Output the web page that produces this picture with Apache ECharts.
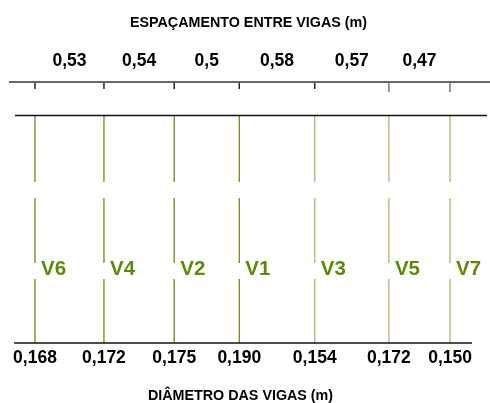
<!DOCTYPE html>
<html lang="pt">
  <head>
    <meta charset="UTF-8" />
    <title>Espaçamento entre vigas</title>
    <script src="https://cdn.jsdelivr.net/npm/echarts@6/dist/echarts.min.js"></script>
    <style>
      * {
        margin: 0;
        padding: 0;
      }
      html,
      body {
        background: #fff;
      }
    </style>
  </head>
  <body>
    <div id="charts" style="width: 490px; height: 403px"></div>
    <script>
      // dados
      var vigas = ["V6", "V4", "V2", "V1", "V3", "V5", "V7"];
      var espacamentos = [0.53, 0.54, 0.5, 0.58, 0.57, 0.47];
      var diametros = [0.168, 0.172, 0.175, 0.19, 0.154, 0.172, 0.15];

      var tituloTopo = "ESPAÇAMENTO ENTRE VIGAS (m)";
      var tituloBase = "DIÂMETRO DAS VIGAS (m)";

      var verdeEscuro = "#6b8c1a";
      var verdeClaro = "#a6ba6e";
      var corLinhas = [verdeEscuro, verdeEscuro, verdeEscuro, verdeEscuro, verdeClaro, verdeClaro, verdeClaro];
      var fonte = "Liberation Sans";

      // posição de cada viga = soma dos espaçamentos
      var posicoes = [0];
      espacamentos.forEach(function (e, i) {
        posicoes.push(+(posicoes[i] + e).toFixed(2));
      });

      function virgula(v, casas) {
        return (casas ? v.toFixed(casas) : String(v)).replace(".", ",");
      }

      function rotulo(cor, tamanho, posicao) {
        return {
          show: true,
          position: posicao,
          formatter: "{b}",
          color: cor,
          fontSize: tamanho,
          fontWeight: "bold",
          fontFamily: fonte,
          textBorderWidth: 0,
          textBorderColor: "transparent",
          opacity: 1,
        };
      }

      var myEcharts = echarts.init(document.getElementById("charts"));
      var series = [];

      // linhas verticais das vigas (com pequenas interrupções)
      posicoes.forEach(function (x, i) {
        series.push({
          type: "line",
          symbol: "none",
          silent: true,
          lineStyle: { color: corLinhas[i], width: 1.3 },
          data: [[x, 0], [x, 64], [x, "-"], [x, 80], [x, 145], [x, "-"], [x, 161], [x, 228]],
        });
        series.push({
          type: "line",
          symbol: "none",
          silent: true,
          lineStyle: { color: i < 5 ? "#222" : "#777", width: 1.5 },
          data: [[x, i < 5 ? 254 : 251], [x, 261]],
        });
      });

      // linhas horizontais
      series.push({
        type: "line",
        symbol: "none",
        silent: true,
        lineStyle: { color: "#111", width: 1.5 },
        data: [[-0.161, 0], [3.359, 0]],
      });
      series.push({
        type: "line",
        symbol: "none",
        silent: true,
        lineStyle: { color: "#111", width: 1.5 },
        data: [[-0.154, 227.5], [3.474, 227.5]],
      });
      series.push({
        type: "line",
        symbol: "none",
        silent: true,
        lineStyle: { color: "#666", width: 2 },
        data: [[-0.2, 261], [3.497, 261]],
      });

      // nomes das vigas
      var lbVigas = rotulo("#5e8a0c", 20.5, "right");
      lbVigas.distance = 6;
      series.push({
        type: "scatter",
        symbolSize: 0,
        silent: true,
        itemStyle: { opacity: 1 },
        data: posicoes.map(function (x, i) {
          return { value: [x, 74], name: vigas[i] };
        }),
        label: lbVigas,
      });

      // diâmetros
      series.push({
        type: "scatter",
        symbolSize: 0,
        silent: true,
        itemStyle: { opacity: 1 },
        data: posicoes.map(function (x, i) {
          return { value: [x, -15], name: virgula(diametros[i], 3) };
        }),
        label: rotulo("#000", 17.5, "inside"),
      });

      // espaçamentos, no meio de cada vão
      series.push({
        type: "scatter",
        symbolSize: 0,
        silent: true,
        itemStyle: { opacity: 1 },
        data: espacamentos.map(function (e, i) {
          return { value: [(posicoes[i] + posicoes[i + 1]) / 2, 282], name: virgula(e) };
        }),
        label: rotulo("#000", 17.5, "inside"),
      });

      var options = {
        animation: false,
        title: [
          {
            text: tituloTopo,
            left: 130,
            top: 16,
            padding: 0,
            textStyle: { fontSize: 14.3, fontWeight: "bold", color: "#000", fontFamily: fonte },
          },
          {
            text: tituloBase,
            left: 148,
            top: 389,
            padding: 0,
            textStyle: { fontSize: 14.3, fontWeight: "bold", color: "#000", fontFamily: fonte },
          },
        ],
        grid: { left: 0, right: 0, top: 0, bottom: 0 },
        xAxis: {
          type: "value",
          min: -0.269,
          max: 3.497,
          show: false,
        },
        yAxis: {
          type: "value",
          min: -60,
          max: 343,
          show: false,
        },
        series: series,
      };
      myEcharts.setOption(options);
    </script>
  </body>
</html>
